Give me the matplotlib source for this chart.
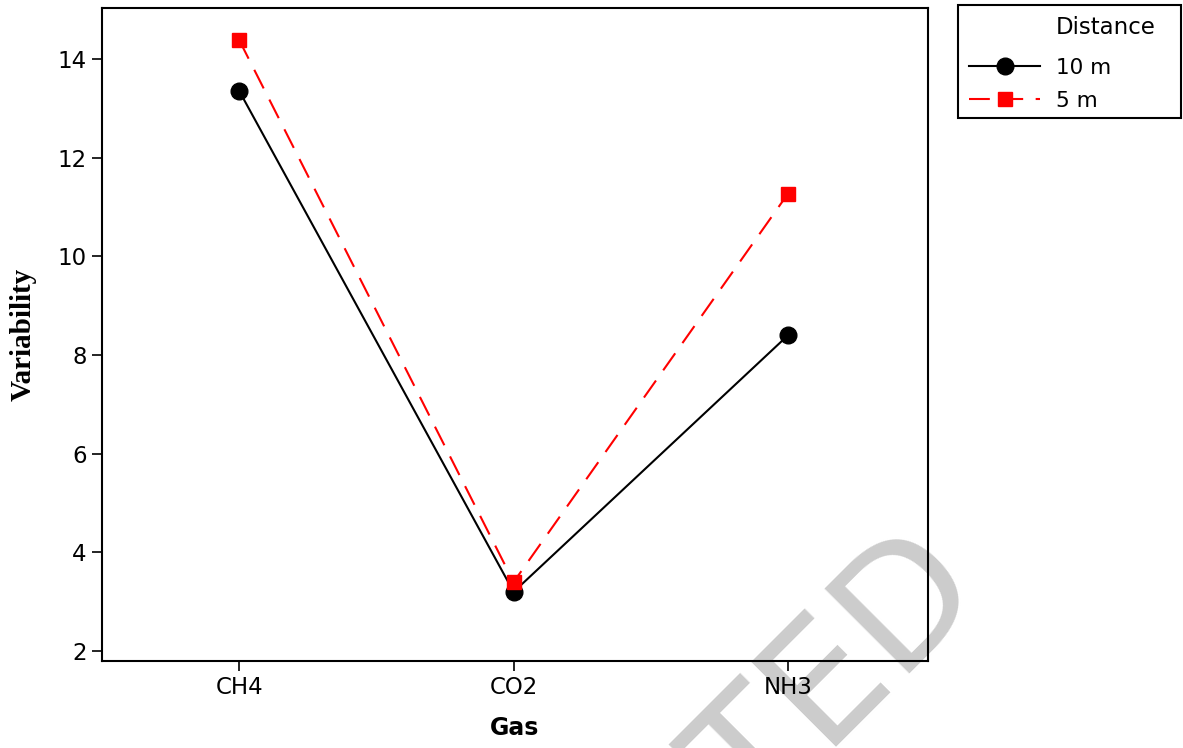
import matplotlib
matplotlib.use("Agg")
import matplotlib.pyplot as plt
from matplotlib.patches import Rectangle

gases = ["CH4", "CO2", "NH3"]
dist_10m = [13.35, 3.2, 8.4]
dist_5m = [14.38, 3.4, 11.27]
yticks = [2, 4, 6, 8, 10, 12, 14]

W, H = 1183, 748
fig = plt.figure(figsize=(W / 100, H / 100), dpi=100)
ax = fig.add_axes([102 / W, 1 - 661 / H, (928 - 102) / W, (661 - 8) / H])

x = range(len(gases))
ax.plot(x, dist_10m, color="black", lw=1.5, marker="o", ms=12,
        label="10 m", zorder=3)
ax.plot(x, dist_5m, color="red", lw=1.5, ls=(0, (10, 6)), marker="s", ms=10.5,
        label="5 m", zorder=4)

ax.set_xlim(-0.5, 2.51)
ax.set_ylim(1.8, 15.03)
ax.set_xticks(list(x))
ax.set_xticklabels(gases)
ax.set_yticks(yticks)
ax.tick_params(labelsize=16.5, length=7, width=1.2, direction="out", pad=4)
for s in ax.spines.values():
    s.set_linewidth(1.5)
    s.set_zorder(5)

ax.set_xlabel("Gas", fontsize=17, fontweight="bold", labelpad=12)
ax.set_ylabel("Variability", fontsize=21, fontweight="bold",
              family="Liberation Serif", labelpad=15)

# legend, box and title laid out by hand
fig.legend(loc="upper left", bbox_to_anchor=(969 / W, 1 - 58 / H),
           fontsize=15.5, frameon=False, borderpad=0, borderaxespad=0,
           handlelength=3.3, handletextpad=0.75, labelspacing=0.6)
fig.add_artist(Rectangle((958 / W, 1 - 118 / H), (1181 - 958) / W, 113 / H,
                         transform=fig.transFigure, fill=False,
                         ec="black", lw=1.5))
fig.text(1056 / W, 1 - 28 / H, "Distance", fontsize=16.5, va="center", ha="left")

# watermark
ax.text(988 / W, 1 - 594 / H, "ACCEPTED", transform=fig.transFigure,
        fontsize=118, color="#cccccc", rotation=45, rotation_mode="anchor",
        ha="right", va="baseline", zorder=1, clip_on=False)

fig.savefig("out.png", dpi=100)
